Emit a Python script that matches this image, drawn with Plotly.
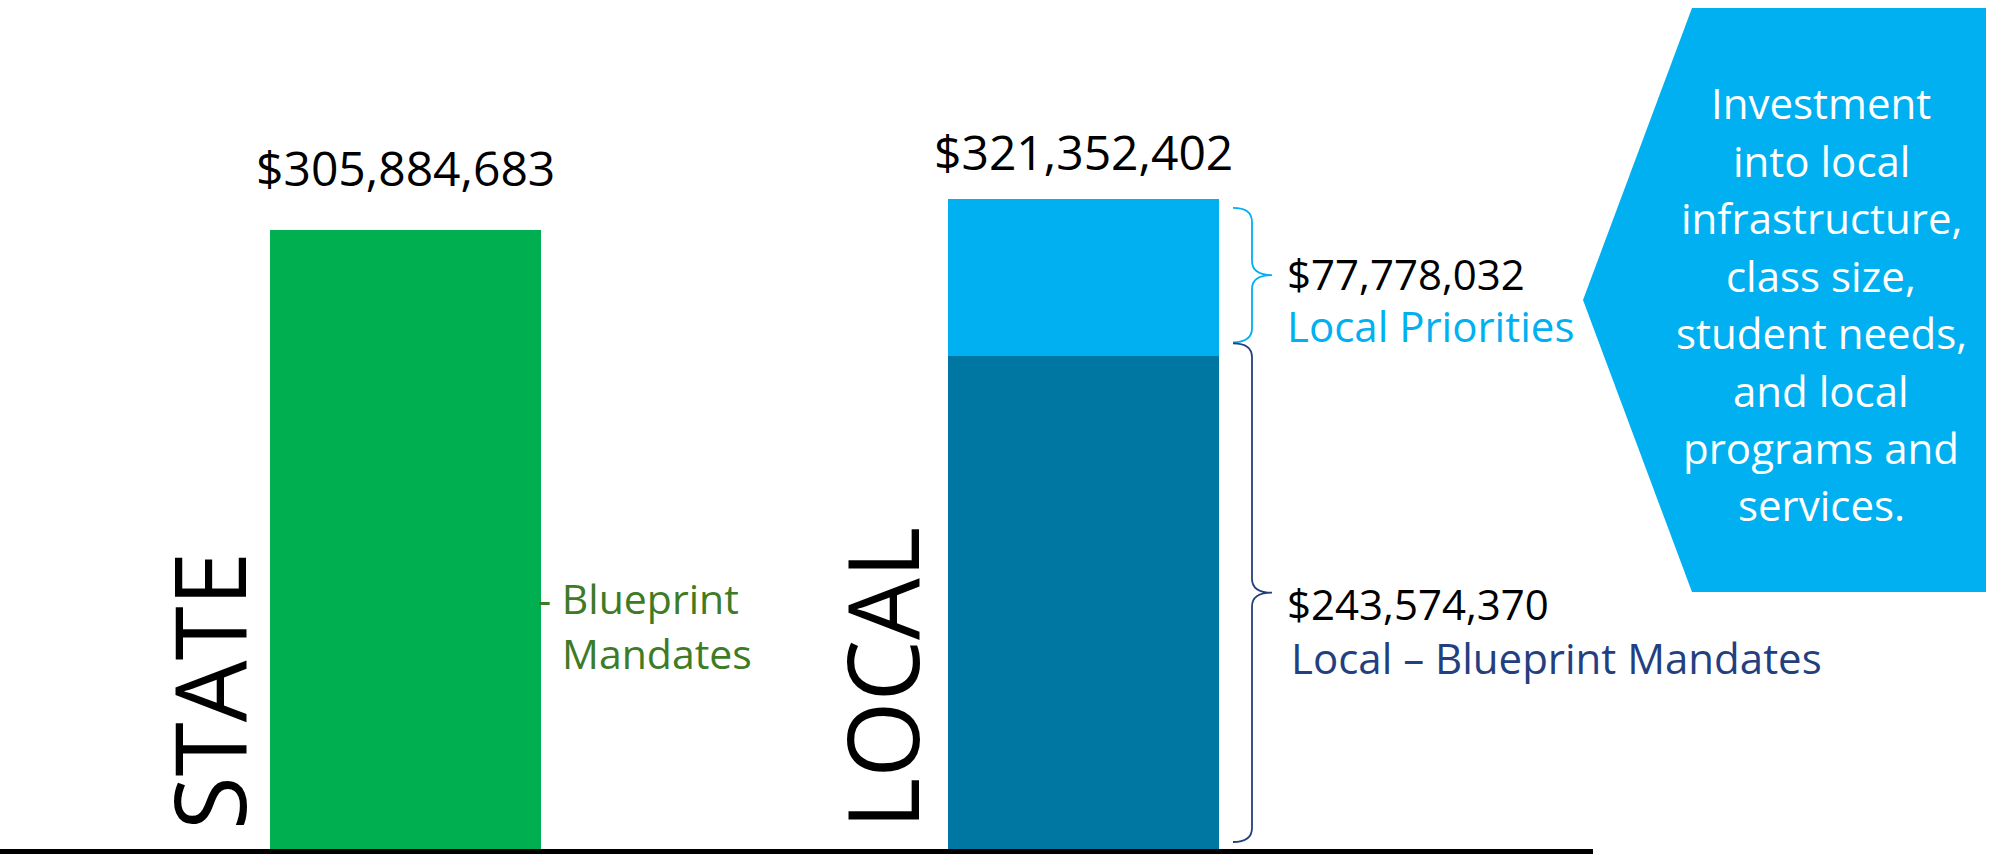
import plotly.graph_objects as go

# data ------------------------------------------------------------------
categories = ["STATE", "LOCAL"]
state_blueprint = [305884683, None]
local_blueprint = [None, 243574370]
local_priorities = [None, 77778032]
local_total = 321352402

value_labels = ["$305,884,683", "$321,352,402"]
part_values = ["$77,778,032", "$243,574,370"]
part_names = ["Local Priorities", "Local \u2013 Blueprint Mandates"]
callout_lines = ["Investment", "into local", "infrastructure,", "class size,",
                 "student needs,", "and local", "programs and", "services."]

W, H = 1993, 854
PLOT_H = 849            # plot area height in px (bottom margin 5)
Y_MAX = 419.7e6         # y range top
DPP = Y_MAX / PLOT_H    # dollars per pixel

FONT = "Open Sans"
GREEN = "#00AF50"
DARK = "#0077A2"
LIGHT = "#00B0F0"
NAVY = "#243F80"
GREEN_TXT = "#3D7B27"


def px(x):
    return x / W


def py(y):
    return (PLOT_H - y) / PLOT_H


fig = go.Figure()
fig.add_trace(go.Bar(x=categories, y=state_blueprint, marker_color=GREEN, width=0.4))
fig.add_trace(go.Bar(x=categories, y=local_blueprint, marker_color=DARK, width=0.4))
fig.add_trace(go.Bar(x=categories, y=local_priorities, marker_color=LIGHT, width=0.4))
fig.update_traces(marker_line_width=0, hoverinfo="skip")

ann = []
# totals above bars
ann.append(dict(x="STATE", y=state_blueprint[0], yshift=63, text=value_labels[0],
                font=dict(size=48, color="black")))
ann.append(dict(x="LOCAL", y=local_total, yshift=47, text=value_labels[1],
                font=dict(size=48, color="black")))

# vertical category names
ann.append(dict(xref="paper", yref="paper", x=px(208), y=py(691), text=categories[0],
                textangle=-90, font=dict(size=98, color="black")))
ann.append(dict(xref="paper", yref="paper", x=px(881), y=py(678), text=categories[1],
                textangle=-90, font=dict(size=98, color="black")))

# state side label
ann.append(dict(xref="paper", yref="paper", x=px(536), y=py(598), text="- Blueprint",
                xanchor="left", font=dict(size=41, color=GREEN_TXT)))
ann.append(dict(xref="paper", yref="paper", x=px(560), y=py(653), text="Mandates",
                xanchor="left", font=dict(size=41, color=GREEN_TXT)))

# local side labels
ann.append(dict(xref="paper", yref="paper", x=px(1285), y=py(274), text=part_values[0],
                xanchor="left", font=dict(size=42, color="black")))
ann.append(dict(xref="paper", yref="paper", x=px(1285), y=py(326), text=part_names[0],
                xanchor="left", font=dict(size=42, color=LIGHT)))
ann.append(dict(xref="paper", yref="paper", x=px(1285), y=py(603), text=part_values[1],
                xanchor="left", font=dict(size=42, color="black")))
ann.append(dict(xref="paper", yref="paper", x=px(1289), y=py(657), text=part_names[1],
                xanchor="left", font=dict(size=42, color=NAVY)))

# callout text, one line at a time
for i, line in enumerate(callout_lines):
    ann.append(dict(xref="paper", yref="paper", x=px(1821), y=py(103 + i * 57.4),
                    text=line, font=dict(size=42, color="white")))

for a in ann:
    a.setdefault("showarrow", False)
    a.setdefault("xanchor", "center")
    a.setdefault("yanchor", "middle")
fig.update_layout(annotations=ann)


def brace(lo, hi, color, pad_top, pad_bot):
    # curly brace "}" to the right of the local bar, spanning data values lo..hi
    yt = hi - pad_top * DPP
    yb = lo + pad_bot * DPP
    ym = (yt + yb) / 2
    r = 14 * DPP
    x0, x1, x2 = px(1233), px(1252), px(1272)
    path = (f"M {x0},{yt} Q {x1},{yt} {x1},{yt - r} L {x1},{ym + r} "
            f"Q {x1},{ym} {x2},{ym} Q {x1},{ym} {x1},{ym - r} "
            f"L {x1},{yb + r} Q {x1},{yb} {x0},{yb}")
    return dict(type="path", xref="paper", yref="y", path=path,
                line=dict(color=color, width=1.8))


fig.add_shape(brace(local_blueprint[1], local_total, LIGHT, 9, 14))
fig.add_shape(brace(0, local_blueprint[1], NAVY, -13, 7))

# callout pentagon
pent = (f"M {px(1583)},{py(300)} L {px(1692)},{py(8)} L {px(1986)},{py(8)} "
        f"L {px(1986)},{py(592)} L {px(1692)},{py(592)} Z")
fig.add_shape(type="path", xref="paper", yref="paper", path=pent,
              fillcolor=LIGHT, line=dict(width=0), layer="below")

# baseline
fig.add_shape(type="line", xref="paper", yref="paper", x0=0, x1=px(1593),
              y0=py(851.5), y1=py(851.5), line=dict(color="black", width=5))

fig.update_layout(
    width=W, height=H,
    margin=dict(l=0, r=0, t=0, b=H - PLOT_H),
    barmode="stack",
    showlegend=False,
    plot_bgcolor="white",
    paper_bgcolor="white",
    font=dict(family=FONT),
    xaxis=dict(range=[-0.598, 2.341], visible=False),
    yaxis=dict(range=[0, Y_MAX], visible=False),
)

fig.write_html("out.html", config={"displayModeBar": False},
               post_script="document.body.style.margin='0px';")
